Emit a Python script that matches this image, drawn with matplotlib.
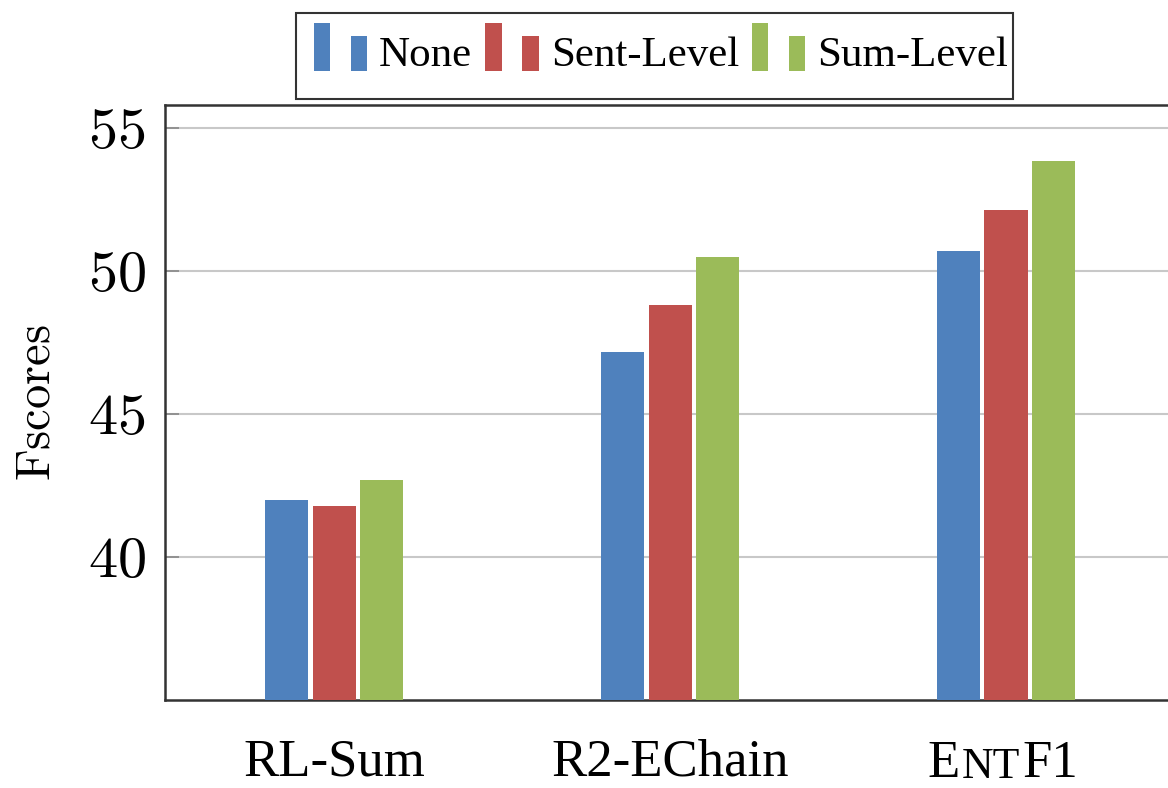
import matplotlib
matplotlib.use("Agg")
import matplotlib.pyplot as plt
import numpy as np
from matplotlib.legend_handler import HandlerBase
from matplotlib.patches import Rectangle
from matplotlib.path import Path

categories = ["RL-Sum", "R2-EChain", "ENTF1"]
series_names = ["None", "Sent-Level", "Sum-Level"]
none_vals = [42.0, 47.15, 50.68]
sent_vals = [41.78, 48.8, 52.13]
sum_vals = [42.7, 50.5, 53.85]
yticks = [40, 45, 50, 55]

colors = ["#4F81BD", "#C0504D", "#9BBB59"]

plt.rcParams['mathtext.fontset'] = 'cm'
plt.rcParams['font.family'] = ['Liberation Serif', 'DejaVu Serif']

fig = plt.figure(figsize=(11.68, 7.88), dpi=100)
ax = fig.add_axes([165/1168, 1 - 700/788, (1174 - 165)/1168, (700 - 105)/788])

x = np.arange(len(categories))
width = 0.128
step = 0.14
bars = []
for i, (vals, name, c) in enumerate(zip([none_vals, sent_vals, sum_vals], series_names, colors)):
    b = ax.bar(x + (i - 1) * step, vals, width, color=c, label=name, zorder=3)
    bars.append(b)

ax.set_ylim(35, 55.8)
ax.set_xlim(-0.503, 2.5)
ax.set_yticks(yticks)
ax.set_yticklabels([f"${v}$" for v in yticks], fontsize=42)
ax.yaxis.grid(True, color='#c8c8c8', linewidth=1.5, zorder=0)
ax.tick_params(axis='y', direction='in', length=10, width=1.2, color='#888888', pad=14)
ax.tick_params(axis='x', length=0, pad=28)
ax.set_xticks(x)
ax.set_xticklabels(["RL-Sum", "R2-EChain", ""], fontsize=38)
ax.set_ylabel(r"$\mathrm{Fscores}$", fontsize=35, labelpad=20)
for s in ax.spines.values():
    s.set_linewidth(1.8)
    s.set_color('#333333')

# small caps ENTF1 label
trans = ax.get_xaxis_transform()
t_nt = ax.annotate("NT", xy=(x[2], 0), xycoords=trans, xytext=(-11, -56), textcoords='offset points',
                   ha='center', va='baseline', fontsize=31.5)
ax.annotate("E", xy=(0, 0), xycoords=t_nt, ha='right', va='bottom', fontsize=38,
            xytext=(-1, -1), textcoords='offset points')
ax.annotate("F1", xy=(1, 0), xycoords=t_nt, ha='left', va='bottom', fontsize=38,
            xytext=(2, -1), textcoords='offset points')


class TwoBars(HandlerBase):
    def create_artists(self, legend, orig_handle, xdescent, ydescent, width, height, fontsize, trans):
        c = orig_handle.patches[0].get_facecolor()
        w = width * 0.30
        base = -ydescent - 0.18 * height
        r1 = Rectangle((-xdescent, base), w, height * 1.6, facecolor=c, edgecolor='none', transform=trans)
        r2 = Rectangle((-xdescent + width * 0.68, base), w, height * 1.15, facecolor=c, edgecolor='none', transform=trans)
        return [r1, r2]


def frame_style(x0, y0, w, h, mutation_size):
    l = x0 + 4
    r = x0 + w - 17
    b = y0 - 3
    t = y0 + h + 1
    return Path([(l, b), (r, b), (r, t), (l, t), (l, b)], closed=True)


leg = fig.legend(bars, series_names, loc='center', bbox_to_anchor=(661/1168, 1 - 55/788), ncol=3,
                 fontsize=31, frameon=True, fancybox=False, edgecolor='black', handlelength=1.27,
                 handletextpad=0.25, columnspacing=0.3, borderpad=0.5,
                 handler_map={type(bars[0]): TwoBars()})
leg.get_frame().set_linewidth(1.5)
leg.get_frame().set_boxstyle(frame_style)

fig.savefig("out.png", dpi=100)
